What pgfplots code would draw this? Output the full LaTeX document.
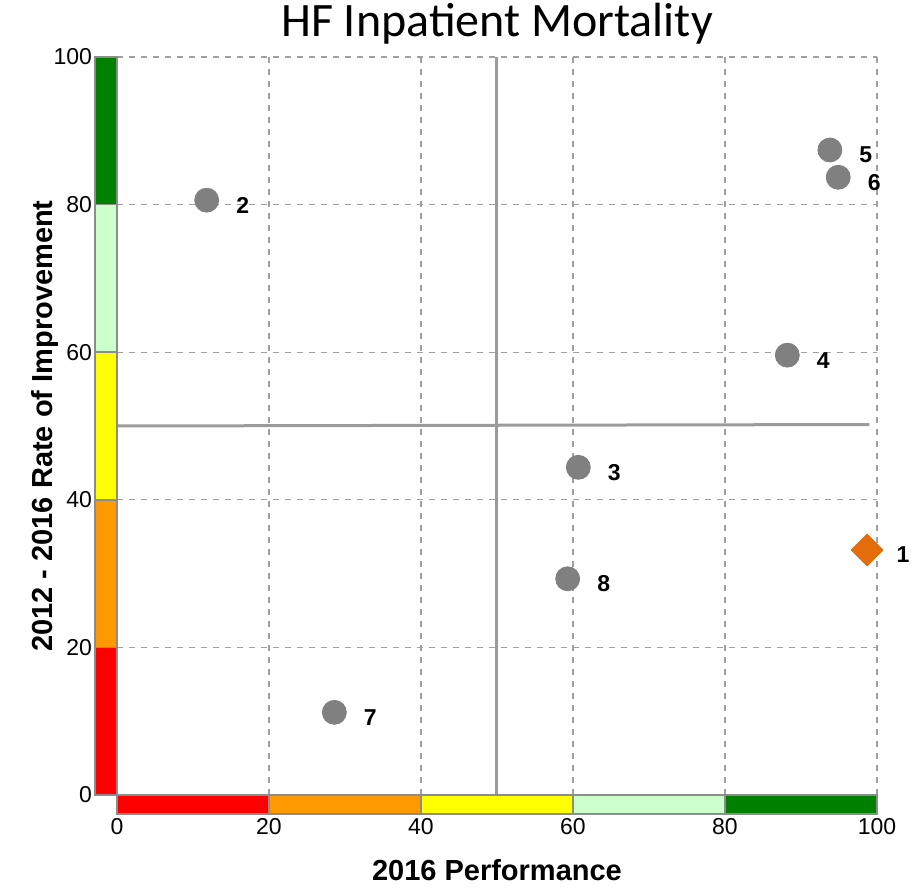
\documentclass[border=0pt]{standalone}
\usepackage{pgfplots}
\pgfplotsset{compat=1.18}
\usepackage{fontspec}
\setmainfont{Liberation Sans}
\newfontfamily\titlefont{Carlito}
\definecolor{cred}{RGB}{255,0,0}
\definecolor{corange}{RGB}{255,153,0}
\definecolor{cyellow}{RGB}{255,255,0}
\definecolor{clgreen}{RGB}{204,255,204}
\definecolor{cgreen}{RGB}{0,128,0}
\definecolor{cpt}{RGB}{128,128,128}
\definecolor{cdia}{RGB}{228,108,10}
\definecolor{cline}{RGB}{155,155,155}
\definecolor{cgrid}{RGB}{160,160,160}
\definecolor{cbord}{RGB}{140,140,140}
\begin{document}
\begin{tikzpicture}
\begin{axis}[
  scale only axis, width=380pt, height=369pt,
  xmin=0, xmax=100, ymin=0, ymax=100,
  clip=false,
  axis line style={draw=none},
  major tick length=0pt,
  xtick={0,20,...,100}, ytick={0,20,...,100},
  grid=major,
  major grid style={dashed, cgrid, line width=0.6pt},
  /pgf/number format/assume math mode=true,
  ticklabel style={font=\fontsize{11.5}{13}\selectfont},
  xticklabel style={yshift=-8pt},
  yticklabel style={xshift=-9pt},
  xlabel={\bfseries 2016 Performance},
  ylabel={\bfseries 2012 - 2016 Rate of Improvement},
  label style={font=\fontsize{14.5}{17}\selectfont},
  xlabel style={at={(axis description cs:0.5,0)}, anchor=center, yshift=-37.5pt},
  ylabel style={at={(axis description cs:0,0.5)}, anchor=center, yshift=36pt},
  nodes near coords,
  point meta=explicit symbolic,
  every node near coord/.append style={anchor=center, xshift=18pt, yshift=-2.5pt, font=\fontsize{11.5}{13}\selectfont\bfseries, text=black},
]
% quadrant lines
\addplot[cline, line width=1.5pt, forget plot, nodes near coords={}] coordinates {(50,0) (50,100)};
\addplot[cline, line width=1.5pt, forget plot, nodes near coords={}] coordinates {(0,50) (99,50.2)};
% left colour bar
\addplot[fill=cred, draw=cbord, line width=0.9pt, nodes near coords={}] coordinates {(-2.9,0) (0,0) (0,20) (-2.9,20)} -- cycle;
\addplot[fill=corange, draw=cbord, line width=0.9pt, nodes near coords={}] coordinates {(-2.9,20) (0,20) (0,40) (-2.9,40)} -- cycle;
\addplot[fill=cyellow, draw=cbord, line width=0.9pt, nodes near coords={}] coordinates {(-2.9,40) (0,40) (0,60) (-2.9,60)} -- cycle;
\addplot[fill=clgreen, draw=cbord, line width=0.9pt, nodes near coords={}] coordinates {(-2.9,60) (0,60) (0,80) (-2.9,80)} -- cycle;
\addplot[fill=cgreen, draw=cbord, line width=0.9pt, nodes near coords={}] coordinates {(-2.9,80) (0,80) (0,100) (-2.9,100)} -- cycle;
% bottom colour bar
\addplot[fill=cred, draw=cbord, line width=0.9pt, nodes near coords={}] coordinates {(0,0) (20,0) (20,-2.6) (0,-2.6)} -- cycle;
\addplot[fill=corange, draw=cbord, line width=0.9pt, nodes near coords={}] coordinates {(20,0) (40,0) (40,-2.6) (20,-2.6)} -- cycle;
\addplot[fill=cyellow, draw=cbord, line width=0.9pt, nodes near coords={}] coordinates {(40,0) (60,0) (60,-2.6) (40,-2.6)} -- cycle;
\addplot[fill=clgreen, draw=cbord, line width=0.9pt, nodes near coords={}] coordinates {(60,0) (80,0) (80,-2.6) (60,-2.6)} -- cycle;
\addplot[fill=cgreen, draw=cbord, line width=0.9pt, nodes near coords={}] coordinates {(80,0) (100,0) (100,-2.6) (80,-2.6)} -- cycle;
% points
\addplot[only marks, mark=*, mark size=6pt, mark options={fill=cpt, draw=cpt}] coordinates {
  (11.8,80.6) [2]
  (60.7,44.4) [3]
  (88.2,59.6) [4]
  (93.8,87.4) [5]
  (94.9,83.7) [6]
  (28.6,11.2) [7]
  (59.3,29.3) [8]
};
\addplot[only marks, mark=square*, mark size=5.6pt, mark options={fill=cdia, draw=cdia, rotate=45}] coordinates {
  (98.7,33.2) [1]
};
\node[font=\titlefont\fontsize{24}{28}\selectfont, anchor=center] at (rel axis cs:0.5,1) [yshift=16.5pt] {HF Inpatient Mortality};
\end{axis}
\pgfresetboundingbox
\path (-58.5pt,-47.5pt) rectangle (400pt,397.5pt);
\end{tikzpicture}
\end{document}
